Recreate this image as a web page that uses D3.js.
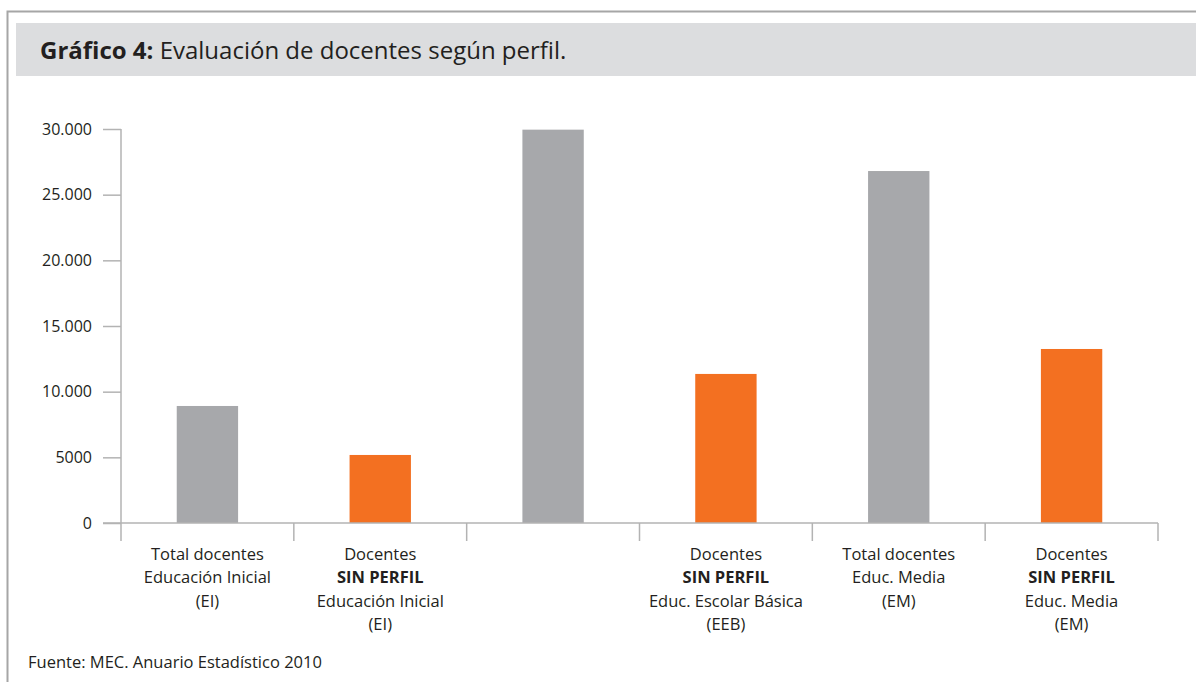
<!DOCTYPE html>
<html lang="es">
<head>
<meta charset="utf-8">
<title>Gráfico 4</title>
<script src="https://cdn.jsdelivr.net/npm/d3@7"></script>
<style>
  body { margin: 0; background: #fff; }
  svg { display: block; font-family: "Open Sans", "Noto Sans", sans-serif; }
</style>
</head>
<body>
<div id="chart"></div>
<script>
// datos
var labels = [
  ["Total docentes", "Educación Inicial", "(EI)"],
  ["Docentes", "SIN PERFIL", "Educación Inicial", "(EI)"],
  [],
  ["Docentes", "SIN PERFIL", "Educ. Escolar Básica", "(EEB)"],
  ["Total docentes", "Educ. Media", "(EM)"],
  ["Docentes", "SIN PERFIL", "Educ. Media", "(EM)"]
]
var values = [8910, 5180, 29950, 11350, 26800, 13250]
var kinds = ["total", "sin", "total", "sin", "total", "sin"]
var tickValues = [0, 5000, 10000, 15000, 20000, 25000, 30000]
var tickLabels = ["0", "5000", "10.000", "15.000", "20.000", "25.000", "30.000"]

var w = 1196, h = 682
var mLeft = 121, mRight = 1158, mTop = 129, mBottom = 523
var colors = { total: "#a7a8ab", sin: "#f37021" }
var lineColor = "#b3b3b3"
var ink = "#231f20"

var svg = d3.select("#chart").append("svg")
  .attr("width", w).attr("height", h)

// marco
svg.append("path")
  .attr("d", "M7.5," + h + "V11.5H" + w)
  .attr("fill", "none").attr("stroke", "#a6a6a6").attr("stroke-width", 2)
svg.append("rect")
  .attr("x", 16).attr("y", 23).attr("width", w - 16).attr("height", 53)
  .attr("fill", "#dcdddf")

var title = svg.append("text").attr("x", 40).attr("y", 59)
  .attr("font-size", 24).attr("fill", ink)
title.append("tspan").attr("font-weight", "bold").text("Gráfico 4:")
title.append("tspan").text(" Evaluación de docentes según perfil.")

var x = d3.scaleBand().domain(d3.range(values.length)).range([mLeft, mRight])
var y = d3.scaleLinear().domain([0, 30000]).range([mBottom, mTop])

// eje y
var yAxis = d3.axisLeft(y)
  .tickValues(tickValues)
  .tickSize(18)
  .tickPadding(11)
  .tickFormat(function(d, i) { return tickLabels[i] })

var gy = svg.append("g").attr("transform", "translate(" + mLeft + ",0)").call(yAxis)
gy.select(".domain").remove()
gy.selectAll("line").attr("stroke", lineColor).attr("stroke-width", 1.5)
gy.selectAll("text").attr("font-size", 16).attr("fill", ink)
  .attr("font-family", "\"Open Sans\", sans-serif")

svg.append("line")
  .attr("x1", mLeft).attr("x2", mLeft).attr("y1", mTop).attr("y2", mBottom)
  .attr("stroke", lineColor).attr("stroke-width", 1.5)

// barras
var bw = x.bandwidth() * 0.355
svg.selectAll("rect.bar")
  .data(values)
  .enter().append("rect")
  .attr("class", "bar")
  .attr("x", function(d, i) { return x(i) + x.bandwidth() / 2 - bw / 2 })
  .attr("y", function(d) { return y(d) })
  .attr("width", bw)
  .attr("height", function(d) { return mBottom - y(d) })
  .attr("fill", function(d, i) { return colors[kinds[i]] })

// eje x
svg.append("line")
  .attr("x1", 103).attr("x2", mRight).attr("y1", mBottom).attr("y2", mBottom)
  .attr("stroke", lineColor).attr("stroke-width", 1.5)

var dividers = x.domain().map(function(i) { return x(i) }).concat([mRight])
svg.selectAll("line.div")
  .data(dividers)
  .enter().append("line")
  .attr("class", "div")
  .attr("x1", function(d) { return d }).attr("x2", function(d) { return d })
  .attr("y1", mBottom).attr("y2", mBottom + 18)
  .attr("stroke", lineColor).attr("stroke-width", 1.5)

var cat = svg.selectAll("text.cat")
  .data(labels)
  .enter().append("text")
  .attr("class", "cat")
  .attr("text-anchor", "middle")
  .attr("font-size", 16.5)
  .attr("fill", ink)
  .attr("x", function(d, i) { return x(i) + x.bandwidth() / 2 })
  .attr("y", 560)

cat.selectAll("tspan")
  .data(function(d, i) { return d.map(function(t) { return { t: t, c: i } }) })
  .enter().append("tspan")
  .attr("x", function(d) { return x(d.c) + x.bandwidth() / 2 })
  .attr("dy", function(d, j) { return j === 0 ? 0 : 23.3 })
  .attr("font-weight", function(d) { return d.t === "SIN PERFIL" ? "bold" : null })
  .text(function(d) { return d.t })

svg.append("text").attr("x", 28).attr("y", 668)
  .attr("font-size", 16.5).attr("fill", ink)
  .text("Fuente: MEC. Anuario Estadístico 2010")
</script>
</body>
</html>
